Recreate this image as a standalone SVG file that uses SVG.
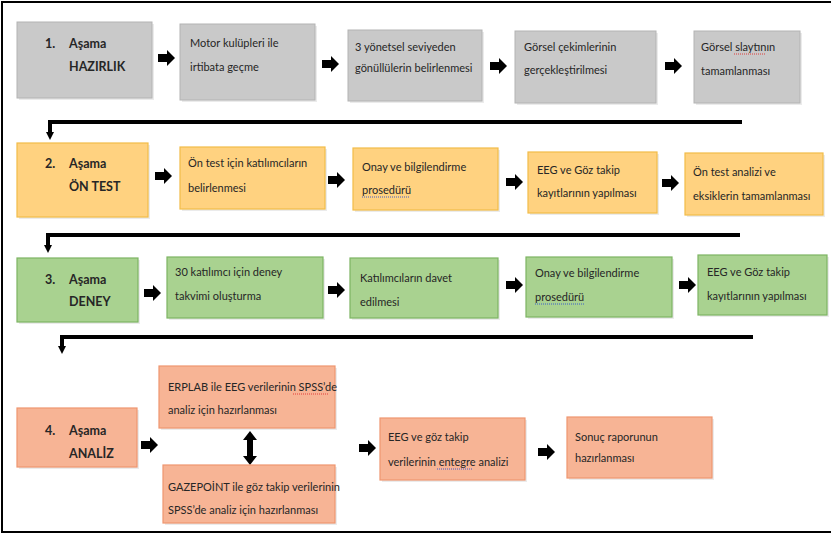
<svg xmlns="http://www.w3.org/2000/svg" xmlns:xlink="http://www.w3.org/1999/xlink" width="831" height="535" viewBox="0 0 831 535">
<style>
text{font-family:Lato,"Open Sans","Liberation Sans",sans-serif;font-size:11px;fill:#262626}
.t{font-weight:bold;font-size:12.5px}
.g{fill:#c9c9c9;stroke:#b3b3b3;stroke-width:1}
.o{fill:#ffd280;stroke:#f2bc48;stroke-width:1.2}
.gr{fill:#a9d290;stroke:#7db463;stroke-width:1.2}
.s{fill:#f7b495;stroke:#ee9670;stroke-width:1.2}
.sh{fill:#000;opacity:0.08}
.conn{fill:none;stroke:#000;stroke-width:4}
.red{fill:none;stroke:#e03030;stroke-width:0.9;stroke-dasharray:1 1}
.blue{fill:none;stroke:#3050d0;stroke-width:0.9;stroke-dasharray:1 1}
</style>
<defs>
<path id="ba" d="M0,-4 H9 V-8 L17,0 L9,8 V4 H0 Z" fill="#000"/>
<marker id="ah" markerWidth="8" markerHeight="8" refX="4" refY="2" orient="auto" markerUnits="userSpaceOnUse" viewBox="0 0 8 8">
<path d="M0,0 L8,0 L4,7 Z" fill="#000" transform="rotate(-90 4 4)"/>
</marker>
</defs>
<rect x="2" y="2" width="834" height="530" fill="#fff" stroke="#000" stroke-width="2"/>

<g id="connectors">
<path class="conn" d="M742,122 H50 V133"/>
<path d="M46,132 L54,132 L50,140 Z"/>
<path class="conn" d="M740,235 H48 V246"/>
<path d="M44,245 L52,245 L48,253 Z"/>
<path class="conn" d="M753,337 H62 V347"/>
<path d="M58,346 L66,346 L62,354 Z"/>
<use xlink:href="#ba" x="158" y="58"/>
<use xlink:href="#ba" x="322" y="64"/>
<use xlink:href="#ba" x="490" y="66"/>
<use xlink:href="#ba" x="665" y="66"/>
<use xlink:href="#ba" x="155" y="176"/>
<use xlink:href="#ba" x="328" y="180"/>
<use xlink:href="#ba" x="506" y="182"/>
<use xlink:href="#ba" x="662" y="183"/>
<use xlink:href="#ba" x="144" y="293"/>
<use xlink:href="#ba" x="328" y="290"/>
<use xlink:href="#ba" x="506" y="285"/>
<use xlink:href="#ba" x="679" y="285"/>
<use xlink:href="#ba" x="141" y="445"/>
<use xlink:href="#ba" x="359" y="448"/>
<use xlink:href="#ba" x="538" y="452"/>
<path d="M250,431 L257,440 L253,440 L253,456 L257,456 L250,465 L243,456 L247,456 L247,440 L243,440 Z"/>
</g>

<g id="row1">
<g id="n1"><rect class="sh" x="19" y="24" width="135" height="76"/><rect class="g" x="17" y="22" width="135" height="76"/>
<text class="t" x="45" y="48">1.</text><text class="t" x="69" y="48">Aşama</text><text class="t" x="69" y="71">HAZIRLIK</text></g>
<g id="n2"><rect class="sh" x="182" y="26" width="135" height="76"/><rect class="g" x="180" y="24" width="135" height="76"/>
<text x="190" y="47">Motor kulüpleri ile</text><text x="190" y="71">irtibata geçme</text></g>
<g id="n3"><rect class="sh" x="350" y="32" width="134" height="71"/><rect class="g" x="348" y="30" width="134" height="71"/>
<text x="355" y="51">3 yönetsel seviyeden</text><text x="355" y="72">gönüllülerin belirlenmesi</text></g>
<g id="n4"><rect class="sh" x="517" y="33" width="141" height="72"/><rect class="g" x="515" y="31" width="141" height="72"/>
<text x="524" y="51">Görsel çekimlerinin</text><text x="524" y="74">gerçekleştirilmesi</text></g>
<g id="n5"><rect class="sh" x="696" y="33" width="106" height="72"/><rect class="g" x="694" y="31" width="106" height="72"/>
<text x="701" y="51">Görsel slaytının</text><text x="701" y="75">tamamlanması</text>
<path class="red" d="M734,54 H765"/></g>
</g>

<g id="row2">
<g id="n6"><rect class="sh" x="19" y="145" width="131" height="74"/><rect class="o" x="17" y="143" width="131" height="74"/>
<text class="t" x="45" y="168">2.</text><text class="t" x="69" y="168">Aşama</text><text class="t" x="69" y="191">ÖN TEST</text></g>
<g id="n7"><rect class="sh" x="182" y="149" width="145" height="62"/><rect class="o" x="180" y="147" width="145" height="62"/>
<text x="188" y="167">Ön test için katılımcıların</text><text x="188" y="192">belirlenmesi</text></g>
<g id="n8"><rect class="sh" x="355" y="150" width="145" height="62"/><rect class="o" x="353" y="148" width="145" height="62"/>
<text x="362" y="171">Onay ve bilgilendirme</text><text x="362" y="194">prosedürü</text>
<path class="blue" d="M362,197 H410"/></g>
<g id="n9"><rect class="sh" x="530" y="154" width="129" height="61"/><rect class="o" x="528" y="152" width="129" height="61"/>
<text x="537" y="174">EEG ve Göz takip</text><text x="537" y="197">kayıtlarının yapılması</text></g>
<g id="n10"><rect class="sh" x="687" y="155" width="138" height="62"/><rect class="o" x="685" y="153" width="138" height="62"/>
<text x="693" y="176">Ön test analizi ve</text><text x="693" y="200">eksiklerin tamamlanması</text></g>
</g>

<g id="row3">
<g id="n11"><rect class="sh" x="19" y="260" width="121" height="64"/><rect class="gr" x="17" y="258" width="121" height="64"/>
<text class="t" x="45" y="284">3.</text><text class="t" x="69" y="284">Aşama</text><text class="t" x="69" y="306">DENEY</text></g>
<g id="n12"><rect class="sh" x="169" y="259" width="156" height="61"/><rect class="gr" x="167" y="257" width="156" height="61"/>
<text x="175" y="276">30 katılımcı için deney</text><text x="175" y="300">takvimi oluşturma</text></g>
<g id="n13"><rect class="sh" x="352" y="260" width="148" height="60"/><rect class="gr" x="350" y="258" width="148" height="60"/>
<text x="360" y="282">Katılımcıların davet</text><text x="360" y="306">edilmesi</text></g>
<g id="n14"><rect class="sh" x="528" y="259" width="146" height="60"/><rect class="gr" x="526" y="257" width="146" height="60"/>
<text x="535" y="277">Onay ve bilgilendirme</text><text x="535" y="301">prosedürü</text>
<path class="blue" d="M535,304 H584"/></g>
<g id="n15"><rect class="sh" x="700" y="257" width="129" height="60"/><rect class="gr" x="698" y="255" width="129" height="60"/>
<text x="707" y="276">EEG ve Göz takip</text><text x="707" y="300">kayıtlarının yapılması</text></g>
</g>

<g id="row4">
<g id="n16"><rect class="sh" x="19" y="410" width="120" height="59"/><rect class="s" x="17" y="408" width="120" height="59"/>
<text class="t" x="45" y="435">4.</text><text class="t" x="69" y="435">Aşama</text><text class="t" x="69" y="458">ANALİZ</text></g>
<g id="n17"><rect class="sh" x="161" y="368" width="176" height="62"/><rect class="s" x="159" y="366" width="176" height="62"/>
<text x="168" y="391">ERPLAB ile EEG verilerinin SPSS’de</text><text x="168" y="414">analiz için hazırlanması</text>
<path class="red" d="M293,394 H328"/></g>
<g id="n18"><rect class="sh" x="165" y="467" width="172" height="58"/><rect class="s" x="163" y="465" width="172" height="58"/>
<text x="168" y="491">GAZEPOİNT ile göz takip verilerinin</text><text x="168" y="514">SPSS’de analiz için hazırlanması</text></g>
<g id="n19"><rect class="sh" x="382" y="420" width="145" height="62"/><rect class="s" x="380" y="418" width="145" height="62"/>
<text x="388" y="441">EEG ve göz takip</text><text x="388" y="466">verilerinin entegre analizi</text>
<path class="blue" d="M437,469 H473"/></g>
<g id="n20"><rect class="sh" x="569" y="419" width="145" height="61"/><rect class="s" x="567" y="417" width="145" height="61"/>
<text x="575" y="441">Sonuç raporunun</text><text x="575" y="462">hazırlanması</text></g>
</g>
</svg>
